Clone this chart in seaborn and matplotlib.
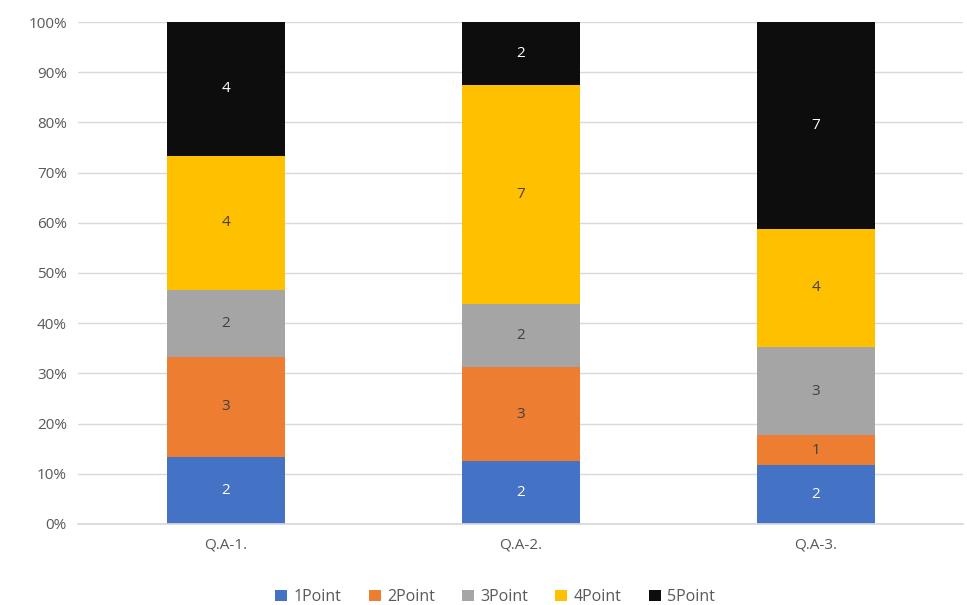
import numpy as np
import pandas as pd
import matplotlib
matplotlib.use("Agg")
import matplotlib.pyplot as plt
import seaborn as sns

categories = ["Q.A-1.", "Q.A-2.", "Q.A-3."]
series_names = ["1Point", "2Point", "3Point", "4Point", "5Point"]
p1 = [2, 2, 2]
p2 = [3, 3, 1]
p3 = [2, 2, 3]
p4 = [4, 7, 4]
p5 = [4, 2, 7]
y_ticks = [0, 10, 20, 30, 40, 50, 60, 70, 80, 90, 100]

colors = ["#4472C4", "#ED7D31", "#A5A5A5", "#FFC000", "#0D0D0D"]
label_colors = ["white", "#404040", "#404040", "#404040", "white"]

sns.set_theme(style="white")
plt.rcParams["font.family"] = ["Open Sans", "DejaVu Sans"]

series = [p1, p2, p3, p4, p5]
counts = np.array(series, dtype=float)
totals = counts.sum(axis=0)
pct = counts / totals * 100

fig = plt.figure(figsize=(9.67, 6.05), dpi=100)
ax = fig.add_axes([0.0807, 0.134, 0.9153, 0.8296])

bottom = np.zeros(len(categories))
for i, name in enumerate(series_names):
    df = pd.DataFrame({"cat": categories, "val": pct[i]})
    sns.barplot(data=df, x="cat", y="val", color=colors[i], bottom=bottom,
                width=0.4, ax=ax, label=name, saturation=1, linewidth=0)
    cont = ax.containers[-1]
    ax.bar_label(cont, labels=[str(int(v)) for v in series[i]], label_type="center",
                 color=label_colors[i], fontsize=11)
    bottom = bottom + pct[i]

handles, labels = ax.get_legend_handles_labels()
if ax.get_legend() is not None:
    ax.get_legend().remove()

ax.set_xlim(-0.5, 2.5)
ax.set_ylim(0, 100)
ax.set_yticks(y_ticks)
ax.set_yticklabels([f"{t}%" for t in y_ticks])
ax.yaxis.grid(True, color="#D9D9D9", linewidth=1)
ax.set_axisbelow(True)
for s in ["top", "right", "left"]:
    ax.spines[s].set_visible(False)
ax.spines["bottom"].set_color("#D9D9D9")
ax.tick_params(axis="both", length=0, colors="#595959", labelsize=11)
ax.tick_params(axis="x", pad=10)
ax.tick_params(axis="y", pad=8)
ax.set_xlabel("")
ax.set_ylabel("")

fig.legend(handles, labels, loc="center", bbox_to_anchor=(0.512, 0.013), ncol=5,
           frameon=False, fontsize=11.5, handlelength=0.75, handleheight=0.75,
           handletextpad=0.4, columnspacing=1.7, labelcolor="#595959")

fig.savefig("out.png", dpi=100)
